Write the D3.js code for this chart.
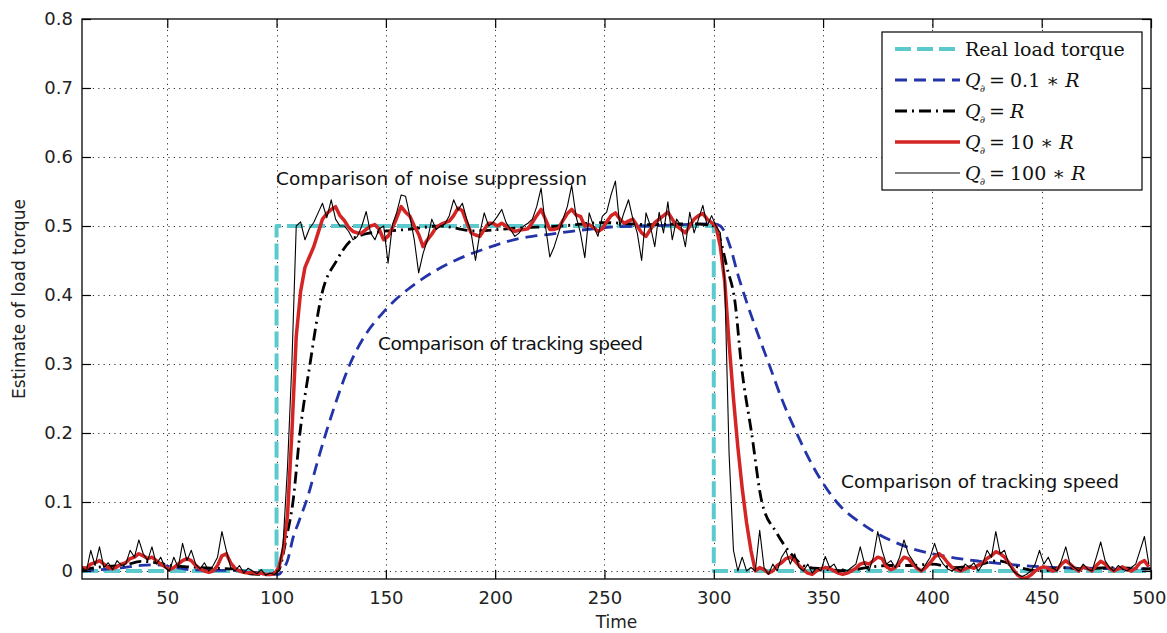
<!DOCTYPE html>
<html><head><meta charset="utf-8">
<script src="https://cdn.jsdelivr.net/npm/d3@7"></script>
<style>body{margin:0;background:#fff;} svg{display:block;}</style>
</head><body>
<script>
// ---- data ----
const sampleStart = 11, sampleStep = 2; // sample times of the two noisy estimates
const q100Values = [
 0.005,0.0,0.03,0.008,0.035,0.005,0.012,0.002,0.015,0.008,
 0.01,0.03,0.02,0.045,0.025,0.015,0.035,0.01,0.02,0.005,
 0.0,0.02,0.005,0.04,0.015,0.03,0.01,0.003,0.012,0.0,
 0.008,0.02,0.057,0.03,0.005,0.0,0.008,-0.003,0.004,0.0,
 -0.004,0.002,-0.006,-0.003,-0.005,0.0,0.04,0.15,0.3,0.5,
 0.506,0.48,0.496,0.505,0.519,0.533,0.512,0.538,0.51,0.5,
 0.5,0.492,0.48,0.485,0.5,0.521,0.49,0.48,0.496,0.5,
 0.446,0.502,0.52,0.545,0.543,0.514,0.48,0.432,0.46,0.48,
 0.51,0.495,0.5,0.503,0.515,0.538,0.523,0.533,0.51,0.49,
 0.45,0.49,0.519,0.5,0.505,0.514,0.524,0.505,0.495,0.485,
 0.49,0.5,0.504,0.51,0.528,0.555,0.5,0.455,0.47,0.49,
 0.51,0.528,0.559,0.514,0.49,0.454,0.519,0.5,0.485,0.514,
 0.52,0.545,0.565,0.5,0.52,0.538,0.51,0.49,0.45,0.519,
 0.5,0.47,0.52,0.49,0.535,0.48,0.51,0.5,0.47,0.52,
 0.49,0.51,0.53,0.5,0.515,0.5,0.49,0.42,0.17,0.03,
 0.0,0.02,0.0,0.005,0.0,0.059,0.005,-0.005,0.01,0.0,
 0.02,0.03,0.01,0.025,0.005,0.0,0.01,-0.003,0.005,0.0,
 0.021,0.005,0.01,-0.002,0.003,0.0,0.005,0.01,0.035,0.01,
 0.0,0.02,0.057,0.03,0.01,0.015,0.005,0.02,0.045,0.025,
 0.015,0.005,0.0,0.01,0.02,0.04,0.02,0.01,0.003,0.0,
 0.005,0.0,0.01,0.005,0.012,0.0,0.01,0.03,0.02,0.057,
 0.025,0.03,0.01,0.0,-0.005,-0.008,-0.005,0.0,0.01,0.03,
 0.01,0.02,0.005,0.0,0.015,0.035,0.01,0.005,0.0,0.01,
 0.003,0.0,0.02,0.042,0.015,0.005,0.0,0.008,0.003,0.0,
 0.005,0.01,0.03,0.05,0.01
];
const q10Values = [
 0.005,0.004,0.01,0.012,0.015,0.01,0.005,0.003,0.006,0.01,
 0.012,0.018,0.02,0.025,0.022,0.018,0.02,0.015,0.01,0.006,
 0.002,0.005,0.01,0.015,0.018,0.015,0.008,0.003,0.0,-0.002,
 0.0,0.008,0.022,0.025,0.012,0.004,0.0,-0.002,-0.003,-0.002,
 -0.004,-0.003,-0.005,-0.005,-0.004,0.005,0.03,0.08,0.2,0.34,
 0.405,0.44,0.455,0.47,0.49,0.51,0.518,0.524,0.528,0.515,
 0.508,0.498,0.492,0.49,0.49,0.495,0.5,0.502,0.495,0.48,
 0.485,0.497,0.512,0.528,0.52,0.514,0.5,0.488,0.47,0.48,
 0.488,0.498,0.502,0.505,0.507,0.515,0.526,0.522,0.505,0.49,
 0.487,0.485,0.495,0.504,0.504,0.5,0.504,0.5,0.495,0.492,
 0.494,0.495,0.496,0.505,0.515,0.524,0.51,0.495,0.495,0.497,
 0.508,0.518,0.524,0.516,0.514,0.5,0.502,0.498,0.492,0.496,
 0.506,0.515,0.519,0.51,0.504,0.507,0.51,0.5,0.49,0.485,
 0.495,0.505,0.51,0.515,0.52,0.51,0.5,0.495,0.49,0.5,
 0.51,0.515,0.518,0.51,0.505,0.5,0.47,0.42,0.33,0.25,
 0.18,0.12,0.07,0.03,0.0,0.005,0.002,-0.003,0.0,0.008,
 0.012,0.018,0.02,0.015,0.008,0.002,-0.003,-0.005,0.0,0.003,
 0.005,0.004,0.0,-0.003,-0.005,-0.003,0.0,0.004,0.01,0.012,
 0.01,0.015,0.02,0.018,0.006,0.002,0.005,0.012,0.02,0.018,
 0.01,0.004,0.0,0.005,0.012,0.02,0.025,0.02,0.012,0.005,
 0.002,0.0,0.003,0.006,0.004,0.008,0.012,0.018,0.022,0.028,
 0.025,0.02,0.012,0.002,-0.006,-0.01,-0.01,-0.006,0.0,0.004,
 0.006,0.004,0.0,0.002,0.01,0.015,0.01,0.004,0.0,0.006,
 0.004,0.0,0.008,0.014,0.01,0.004,0.0,0.003,0.006,0.002,
 0.0,0.004,0.012,0.015,0.006
];
const q01Time = [11,20,30,38,45,52,60,70,80,90,97,101,103.1,105,107.7,110,114.5,118.4,122.6,127.5,133.6,141.2,148,154,160,166,172,179,186,194.4,202,209.8,217,225,234,245,255.6,270,285,300,303,307.5,311,315,320,325.7,331,337.9,345.5,356.2,369.9,388.2,406.5,421.8,444.7,470,500];
const q01Values = [0.0,0.002,0.005,0.008,0.009,0.006,0.002,0.001,0.001,-0.002,-0.005,-0.005,0.003,0.015,0.05,0.07,0.11,0.155,0.2,0.248,0.3,0.345,0.372,0.392,0.408,0.422,0.434,0.446,0.456,0.466,0.474,0.481,0.485,0.488,0.492,0.496,0.499,0.5,0.502,0.503,0.5,0.47,0.43,0.39,0.345,0.296,0.25,0.2,0.151,0.1,0.064,0.035,0.021,0.014,0.007,0.004,0.003];
const q1Time = [11,20,30,38,45,52,60,70,80,88,95,100.7,104.6,107.5,110.7,115.3,120.6,127.5,133.6,140,148,160,175,190,210,230,250,270,290,300,303,306,309.7,312.7,317.3,322,328.8,335,342.5,350,360,370,380,390,400,410,420,430,440,450,460,470,480,490,500];
const q1Values = [0.002,0.006,0.008,0.014,0.012,0.008,0.006,0.004,0.003,-0.004,-0.005,0.0,0.05,0.1,0.2,0.3,0.4,0.45,0.478,0.488,0.492,0.495,0.5,0.493,0.497,0.5,0.505,0.502,0.503,0.5,0.48,0.44,0.39,0.296,0.2,0.1,0.055,0.026,0.006,0.003,0.0,0.005,0.008,0.008,0.01,0.005,0.008,0.015,0.005,0.0,0.005,0.003,0.005,0.004,0.003];
const realTime = [11,100,100,300,300,500];
const realValues = [0,0,0.5,0.5,0,0];
const xTicks = [50,100,150,200,250,300,350,400,450,500];
const yTicks = [0,0.1,0.2,0.3,0.4,0.5,0.6,0.7,0.8];
const legendLabels = ["Real load torque","0.1 \u2217 ","","10 \u2217 ","100 \u2217 "];
const annotationTexts = ["Comparison of noise suppression","Comparison of tracking speed","Comparison of tracking speed"];
const xLabel = "Time", yLabel = "Estimate of load torque";

// ---- chart ----
const W = 1167, H = 633;
const P = {left:82, right:1151, top:19, bottom:579};
const svg = d3.select("body").append("svg").attr("width", W).attr("height", H);
const x = d3.scaleLinear().domain([11, 500]).range([P.left, P.right]);
const y = d3.scaleLinear().domain([-0.0116, 0.8]).range([P.bottom, P.top]);

svg.append("rect").attr("width", W).attr("height", H).attr("fill", "#fff");
svg.append("defs").append("clipPath").attr("id","clip").append("rect")
  .attr("x", P.left).attr("y", P.top).attr("width", P.right-P.left).attr("height", P.bottom-P.top);

// grid
const grid = svg.append("g").attr("stroke","#333").attr("stroke-width",1).attr("stroke-dasharray","1.2,4.2");
grid.selectAll(".gx").data(xTicks.filter(t=>t<500)).join("line")
  .attr("x1", d=>Math.round(x(d))+0.5).attr("x2", d=>Math.round(x(d))+0.5)
  .attr("y1", P.top).attr("y2", P.bottom);
grid.selectAll(".gy").data(yTicks.filter(t=>t<0.8)).join("line")
  .attr("y1", d=>Math.round(y(d))+0.5).attr("y2", d=>Math.round(y(d))+0.5)
  .attr("x1", P.left).attr("x2", P.right);

// lines
const plot = svg.append("g").attr("clip-path","url(#clip)").attr("fill","none");
const zip = (ts, vs) => vs.map((v,i)=>[ts[i], v]);
const sampled = vs => vs.map((v,i)=>[sampleStart + i*sampleStep, v]);

const series = [
  {data: zip(realTime, realValues), color:"#5cc9cc", width:4, dash:"16,6", curve:d3.curveLinear},
  {data: zip(q01Time, q01Values), color:"#2234a8", width:2.8, dash:"12,7", curve:d3.curveMonotoneX},
  {data: zip(q1Time, q1Values), color:"#000", width:2.8, dash:"12,5,2,5", curve:d3.curveMonotoneX},
  {data: sampled(q10Values), color:"#d42424", width:3.5, dash:null, curve:d3.curveLinear},
  {data: sampled(q100Values), color:"#000", width:1.1, dash:null, curve:d3.curveLinear}
];
series.forEach(s => {
  const line = d3.line().x(d=>x(d[0])).y(d=>y(d[1])).curve(s.curve);
  plot.append("path").datum(s.data).attr("d", line)
    .attr("stroke", s.color).attr("stroke-width", s.width)
    .attr("stroke-dasharray", s.dash).attr("stroke-linejoin","round");
});

// axes
const fontTick = "DejaVu Sans";
const ax = svg.append("g").attr("transform",`translate(0,${P.bottom})`)
  .call(d3.axisBottom(x).tickValues(xTicks).tickSizeInner(-9).tickSizeOuter(0).tickPadding(12));
const ay = svg.append("g").attr("transform",`translate(${P.left},0)`)
  .call(d3.axisLeft(y).tickValues(yTicks).tickSizeInner(-9).tickSizeOuter(0).tickPadding(9)
    .tickFormat(d => d === 0 ? "0" : d3.format(".1f")(d)));
const axT = svg.append("g").attr("transform",`translate(0,${P.top})`)
  .call(d3.axisTop(x).tickValues(xTicks).tickSizeInner(-9).tickSizeOuter(0).tickFormat(""));
const ayR = svg.append("g").attr("transform",`translate(${P.right},0)`)
  .call(d3.axisRight(y).tickValues(yTicks).tickSizeInner(-9).tickSizeOuter(0).tickFormat(""));
[ax, ay, axT, ayR].forEach(g => {
  g.select(".domain").remove();
  g.selectAll("line").attr("stroke","#000").attr("stroke-width",1.2);
  g.selectAll("text").attr("font-family", fontTick).attr("font-size", 18).attr("fill","#222");
});
// keep the last x label inside the picture
ax.selectAll(".tick text").filter(d => d === 500).attr("text-anchor","end").attr("x", 15);
svg.append("rect").attr("x", P.left).attr("y", P.top).attr("width", P.right-P.left).attr("height", P.bottom-P.top)
  .attr("fill","none").attr("stroke","#000").attr("stroke-width",1.3);

// axis labels
svg.append("text").attr("x", (P.left+P.right)/2).attr("y", 628).attr("text-anchor","middle")
  .attr("font-family", fontTick).attr("font-size", 17).attr("fill","#222").text(xLabel);
svg.append("text").attr("transform","translate(25,299) rotate(-90)").attr("text-anchor","middle")
  .attr("font-family", fontTick).attr("font-size", 17).attr("fill","#222").text(yLabel);

// annotations
const annPos = [{x:276, y:185, w:311}, {x:378, y:350, w:265}, {x:841, y:488, w:278}];
annotationTexts.forEach((t,i) => {
  svg.append("text").attr("x", annPos[i].x).attr("y", annPos[i].y)
    .attr("font-family", fontTick).attr("font-size", 18.5).attr("fill","#111")
    .attr("textLength", annPos[i].w).attr("lengthAdjust","spacing").text(t);
});

// legend
const lg = svg.append("g");
lg.append("rect").attr("x", 882).attr("y", 32).attr("width", 260).attr("height", 158)
  .attr("fill","#fff").attr("stroke","#000").attr("stroke-width",1.2);
const rowY = [49, 80, 111, 142, 173];
series.forEach((s,i) => {
  lg.append("line").attr("x1", 895).attr("x2", 960).attr("y1", rowY[i]).attr("y2", rowY[i])
    .attr("stroke", s.color).attr("stroke-width", s.width).attr("stroke-dasharray", s.dash);
  const t = lg.append("text").attr("y", rowY[i]+7).attr("font-family","DejaVu Serif")
    .attr("font-size", 19).attr("fill","#111");
  if (i === 0) { t.attr("x", 965).text(legendLabels[0]); return; }
  t.append("tspan").attr("x", 965).attr("font-style","italic").text("Q");
  t.append("tspan").attr("x", 980).attr("dy", 5).attr("font-size", 10).text("\u2202");
  t.append("tspan").attr("x", 989).attr("dy", -5).text("=");
  if (legendLabels[i]) t.append("tspan").attr("x", 1010).text(legendLabels[i]);
  const r = t.append("tspan").attr("font-style","italic").text("R");
  if (!legendLabels[i]) r.attr("x", 1010);
});
</script>
</body></html>
